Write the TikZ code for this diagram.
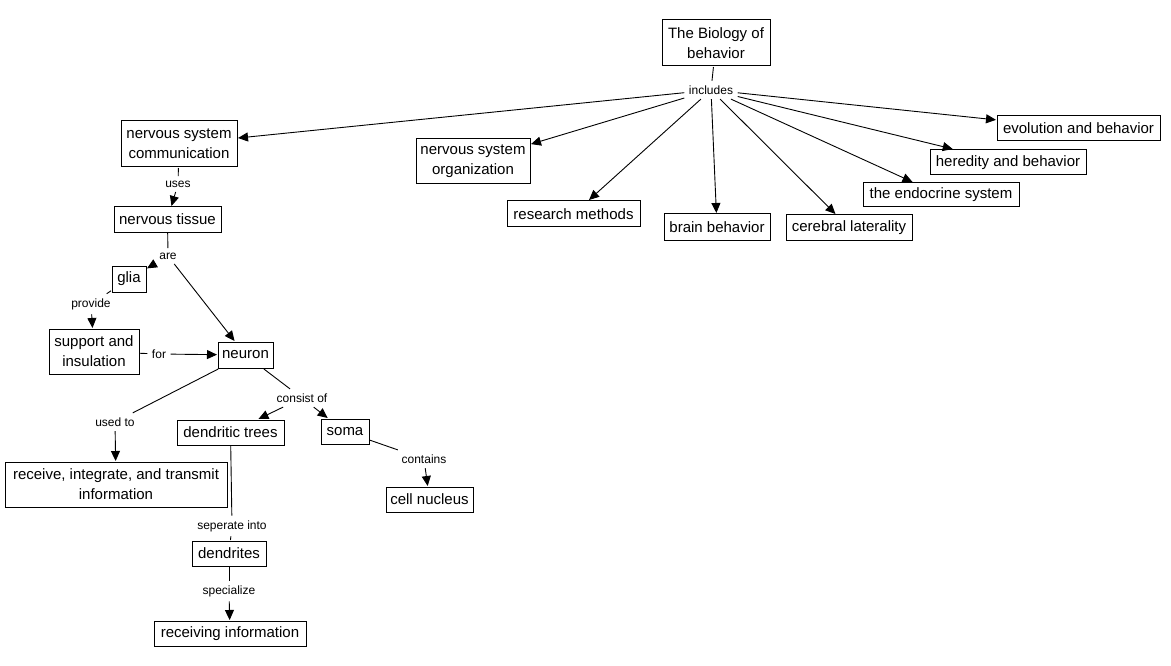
\documentclass[tikz,border=0pt]{standalone}
\usepackage{fontspec}
\setmainfont{Liberation Sans}
\usetikzlibrary{arrows.meta}
\begin{document}
\begin{tikzpicture}[x=1pt,y=-1pt,
 box/.style={draw, line width=1pt, inner sep=0pt, outer sep=1pt, align=center, font=\fontsize{15}{20}\selectfont},
 lab/.style={inner sep=4.5pt, font=\fontsize{12}{14}\selectfont},
 con/.style={line width=0.9pt},
 arr/.style={con, -{Triangle[length=10pt,width=9pt]}}]
\fill[white] (0,0) rectangle (1171,666);
\useasboundingbox (0,0) rectangle (1171,666);
% boxes
\node[box, minimum width=108, minimum height=46] (bio) at (716,43) {The Biology of\\behavior};
\node[box, minimum width=116, minimum height=46] (nsc) at (179,144) {nervous system\\communication};
\node[box, minimum width=114, minimum height=45] (nso) at (473,161.5) {nervous system\\organization};
\node[box, minimum width=133, minimum height=26] (rm) at (573.5,214) {research methods};
\node[box, minimum width=106, minimum height=26] (bb) at (717,227) {brain behavior};
\node[box, minimum width=126, minimum height=25] (cl) at (849,227.5) {cerebral laterality};
\node[box, minimum width=156, minimum height=24] (es) at (941,195) {the endocrine system};
\node[box, minimum width=156, minimum height=25] (hb) at (1008,162.5) {heredity and behavior};
\node[box, minimum width=163, minimum height=25] (eb) at (1078.5,128.5) {evolution and behavior};
\node[box, minimum width=107, minimum height=25] (nt) at (167.5,219.5) {nervous tissue};
\node[box, minimum width=34, minimum height=26] (glia) at (129,279) {glia};
\node[box, minimum width=90, minimum height=45] (sup) at (94,351.5) {support and\\insulation};
\node[box, minimum width=55, minimum height=26] (neu) at (245.5,355) {neuron};
\node[box, minimum width=107, minimum height=25] (dt) at (230.5,432.5) {dendritic trees};
\node[box, minimum width=48, minimum height=25] (soma) at (345,431.5) {soma};
\node[box, minimum width=222, minimum height=45] (rit) at (116,484.5) {receive, integrate, and transmit\\information};
\node[box, minimum width=87, minimum height=25] (cn) at (429.5,499.5) {cell nucleus};
\node[box, minimum width=74, minimum height=25] (den) at (229,553.5) {dendrites};
\node[box, minimum width=152, minimum height=25] (ri) at (230,633.5) {receiving information};
% labels
\node[lab] (inc) at (711,90) {includes};
\node[lab] (uses) at (178,184) {uses};
\node[lab] (are) at (168,256) {are};
\node[lab] (prov) at (91,304) {provide};
\node[lab] (for) at (159,354) {for};
\node[lab] (used) at (115,422) {used to};
\node[lab] (cons) at (302,398) {consist of};
\node[lab] (cont) at (424,459) {contains};
\node[lab] (sep) at (232,526) {seperate into};
\node[lab] (spec) at (229,591) {specialize};
% connectors
\draw[con] (bio) -- (inc);
\foreach \t in {nsc,nso,rm,bb,cl,es,hb,eb} \draw[arr] (inc) -- (\t);
\draw[con] (nsc) -- (uses);
\draw[arr] (uses) -- (nt);
\draw[con] (nt) -- (are);
\draw[arr] (are) -- (glia);
\draw[arr] (are) -- (neu);
\draw[con] (glia) -- (prov);
\draw[arr] (prov) -- (sup);
\draw[con] (sup) -- (for);
\draw[arr] (for) -- (neu);
\draw[con] (neu) -- (used);
\draw[arr] (used) -- (rit);
\draw[con] (neu) -- (cons);
\draw[arr] (cons) -- (dt);
\draw[arr] (cons) -- (soma);
\draw[con] (soma) -- (cont);
\draw[arr] (cont) -- (cn);
\draw[con] (dt) -- (sep);
\draw[con] (sep) -- (den);
\draw[con] (den) -- (spec);
\draw[arr] (spec) -- (ri);
\end{tikzpicture}
\end{document}
